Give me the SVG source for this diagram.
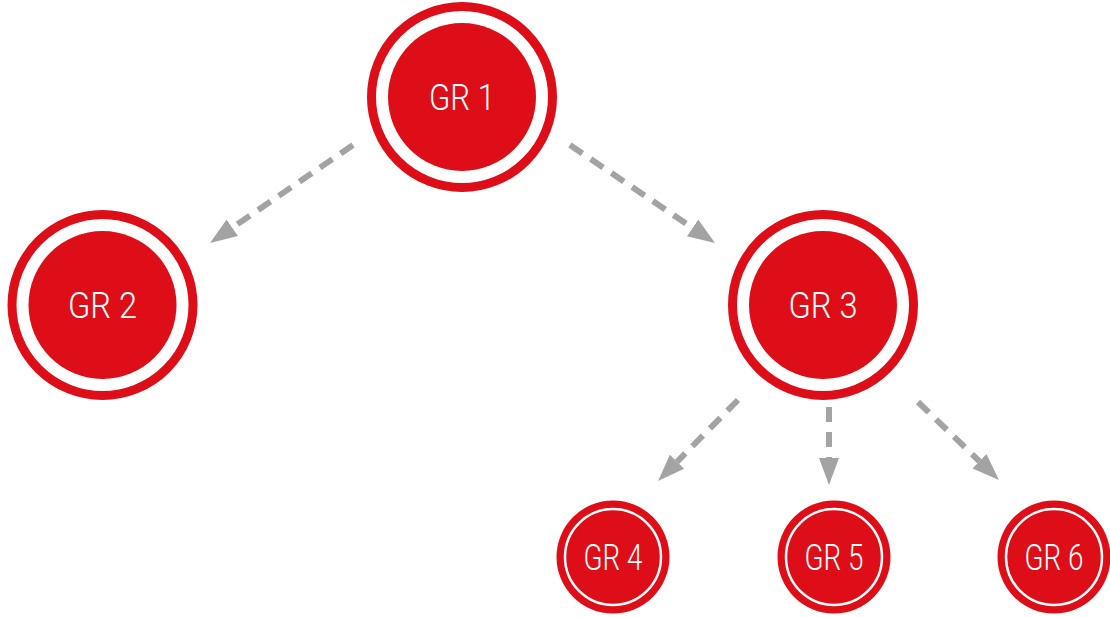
<svg xmlns="http://www.w3.org/2000/svg" width="1110" height="617" viewBox="0 0 1110 617">
  <style>
    .ring { fill: none; stroke: #dd0e17; stroke-width: 9; }
    .core { fill: #dd0e17; }
    .thin { fill: none; stroke: #ffffff; stroke-width: 2.5; }
    .lbl { fill: #ffffff; font-family: Roboto, "Liberation Sans", sans-serif; font-weight: 300; text-anchor: middle; }
    .big { font-size: 36px; }
    .small { font-size: 36px; }
    .edge { fill: none; stroke: #a3a3a3; stroke-width: 6; stroke-dasharray: 15 10; }
  </style>
  <defs>
    <marker id="ah" markerUnits="userSpaceOnUse" markerWidth="30" markerHeight="24" viewBox="0 -12 30 24" refX="0" refY="0" orient="auto">
      <path d="M0,-10 L27,0 L0,10 Z" fill="#a3a3a3"/>
    </marker>
  </defs>
  <rect width="1110" height="617" fill="#ffffff"/>
  <g id="connectors">
    <line class="edge" x1="353" y1="145" x2="232.3" y2="227.7" marker-end="url(#ah)"/>
    <line class="edge" x1="570" y1="145" x2="692.6" y2="227.9" marker-end="url(#ah)"/>
    <line class="edge" x1="738" y1="400" x2="677" y2="461.8" marker-end="url(#ah)"/>
    <line class="edge" x1="829" y1="407" x2="829" y2="458" marker-end="url(#ah)"/>
    <line class="edge" x1="918" y1="402" x2="979.5" y2="461.3" marker-end="url(#ah)"/>
  </g>
  <g id="gr1">
    <circle class="ring" cx="462" cy="97" r="90.5"/>
    <circle class="core" cx="462" cy="97" r="74"/>
    <text class="lbl big" x="462" y="110" textLength="66" lengthAdjust="spacingAndGlyphs">GR 1</text>
  </g>
  <g id="gr2">
    <circle class="ring" cx="102.5" cy="305" r="90.5"/>
    <circle class="core" cx="102.5" cy="305" r="74"/>
    <text class="lbl big" x="102.5" y="318" textLength="69" lengthAdjust="spacingAndGlyphs">GR 2</text>
  </g>
  <g id="gr3">
    <circle class="ring" cx="823" cy="305" r="90.5"/>
    <circle class="core" cx="823" cy="305" r="74"/>
    <text class="lbl big" x="823" y="318" textLength="69" lengthAdjust="spacingAndGlyphs">GR 3</text>
  </g>
  <g id="gr4">
    <circle class="core" cx="613" cy="557" r="56.5"/>
    <circle class="thin" cx="613" cy="557" r="48"/>
    <text class="lbl small" x="613" y="570" textLength="59" lengthAdjust="spacingAndGlyphs">GR 4</text>
  </g>
  <g id="gr5">
    <circle class="core" cx="834" cy="557" r="56.5"/>
    <circle class="thin" cx="834" cy="557" r="48"/>
    <text class="lbl small" x="834" y="570" textLength="59" lengthAdjust="spacingAndGlyphs">GR 5</text>
  </g>
  <g id="gr6">
    <circle class="core" cx="1054" cy="557" r="56.5"/>
    <circle class="thin" cx="1054" cy="557" r="48"/>
    <text class="lbl small" x="1054" y="570" textLength="59" lengthAdjust="spacingAndGlyphs">GR 6</text>
  </g>
</svg>
